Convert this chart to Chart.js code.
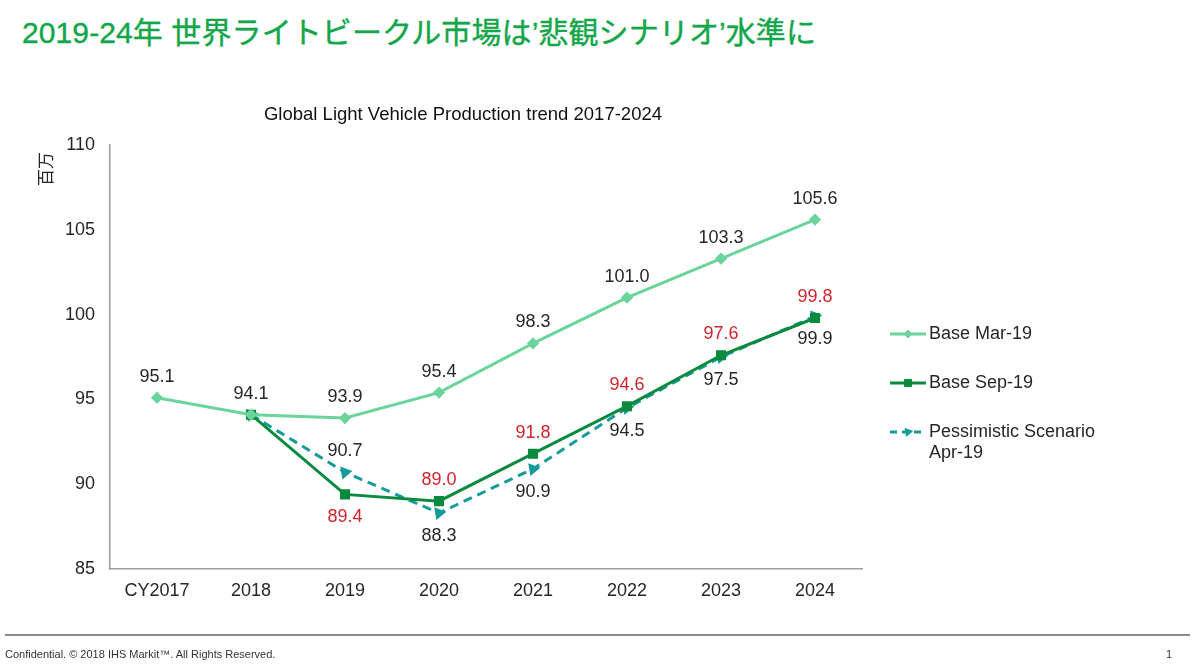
<!DOCTYPE html>
<html><head><meta charset="utf-8">
<script src="https://cdn.jsdelivr.net/npm/chart.js@4"></script>
<style>
html,body{margin:0;padding:0;background:#fff;width:1200px;height:666px;overflow:hidden;position:relative;font-family:"Liberation Sans",Arial,sans-serif}
#wrap{position:absolute;left:0;top:0;width:1200px;height:666px}
h1{position:absolute;left:22px;top:15px;margin:0;font-weight:normal;font-size:30px;letter-spacing:0.1px;font-family:"Liberation Sans","Noto Sans CJK JP",sans-serif;color:#14a64a;white-space:nowrap;line-height:36px;-webkit-text-stroke:0.4px #14a64a}
#rule{position:absolute;left:5px;top:634px;width:1185px;height:2px;background:#8c8c8c}
#foot{position:absolute;left:5px;top:648px;font-size:11px;color:#333}
#page{position:absolute;left:1166px;top:648px;font-size:11px;color:#333}
</style>
</head><body>
<h1>2019-24年 世界ライトビークル市場は’悲観シナリオ’水準に</h1>
<div id="wrap"><canvas id="c" width="1200" height="666"></canvas></div>
<div id="rule"></div>
<div id="foot">Confidential. © 2018 IHS Markit™. All Rights Reserved.</div>
<div id="page">1</div>
<script>
const categories = ['CY2017','2018','2019','2020','2021','2022','2023','2024'];
const baseMar19 = [95.1, 94.1, 93.9, 95.4, 98.3, 101.0, 103.3, 105.6];
const baseSep19 = [null, 94.1, 89.4, 89.0, 91.8, 94.6, 97.6, 99.8];
const pessimisticApr19 = [null, 94.1, 90.7, 88.3, 90.9, 94.5, 97.5, 99.9];
const seriesNames = ['Base Mar-19', 'Base Sep-19', ['Pessimistic Scenario', 'Apr-19']];
const chartTitle = 'Global Light Vehicle Production trend 2017-2024';
const yAxisTitle = '百万';
const yMin = 85, yMax = 110, yStep = 5;

// label placement (style): 'a' above, 'b' below, '' none
const labelPlacement = [
  ['a','a','a','a','a','a','a','a'],
  ['','','b','a','a','a','a','a'],
  ['','','a','b','b','b','b','b']
];
const labelColors = ['#262626', '#d0232b', '#262626'];

const FONT = '"Liberation Sans", Arial, sans-serif';

const labelPlugin = {
  id: 'pointLabels',
  afterDatasetsDraw(chart) {
    const ctx = chart.ctx;
    ctx.save();
    ctx.font = '18px ' + FONT;
    ctx.textAlign = 'center';
    ctx.textBaseline = 'middle';
    chart.data.datasets.forEach((ds, di) => {
      const meta = chart.getDatasetMeta(di);
      meta.data.forEach((pt, i) => {
        const v = ds.data[i];
        const p = labelPlacement[di][i];
        if (v == null || !p) return;
        ctx.fillStyle = labelColors[di];
        const dy = p === 'a' ? -21 : 23;
        ctx.fillText(v.toFixed(1), pt.x, pt.y + dy);
      });
    });
    ctx.restore();
  }
};

const textPlugin = {
  id: 'titles',
  afterDraw(chart) {
    const ctx = chart.ctx;
    const a = chart.chartArea;
    ctx.save();
    ctx.fillStyle = '#111';
    ctx.font = '18.5px ' + FONT;
    ctx.textAlign = 'center';
    ctx.textBaseline = 'middle';
    ctx.fillText(chartTitle, 463, 115);
    ctx.translate(46, a.top + 24);
    ctx.rotate(-Math.PI / 2);
    ctx.fillStyle = '#262626';
    ctx.font = '17px "Noto Sans CJK JP", sans-serif';
    ctx.fillText(yAxisTitle, 0, 0);
    ctx.restore();
  }
};

const legendPlugin = {
  id: 'sideLegend',
  afterDraw(chart) {
    const ctx = chart.ctx;
    const ys = [334, 383, 432];
    ctx.save();
    chart.data.datasets.forEach((ds, di) => {
      const y = ys[di];
      ctx.strokeStyle = ds.borderColor;
      ctx.lineWidth = ds.borderWidth;
      ctx.setLineDash(ds.legendDash || []);
      ctx.beginPath(); ctx.moveTo(890, y); ctx.lineTo(926, y); ctx.stroke();
      ctx.setLineDash([]);
      ctx.fillStyle = ds.pointBackgroundColor;
      ctx.strokeStyle = ds.pointBorderColor;
      ctx.lineWidth = 1;
      Chart.helpers.drawPoint(ctx, {pointStyle: ds.pointStyle, radius: ds.pointRadius, rotation: ds.pointRotation || 0, borderWidth: 1}, 908, y);
      ctx.fillStyle = '#262626';
      ctx.font = '18px ' + FONT;
      ctx.textAlign = 'left';
      ctx.textBaseline = 'middle';
      const lines = Array.isArray(seriesNames[di]) ? seriesNames[di] : [seriesNames[di]];
      lines.forEach((t, k) => ctx.fillText(t, 929, y + k * 21));
    });
    ctx.restore();
  }
};

const cMar = '#6ad49b', cSep = '#0a8a3e', cPes = '#169b9b';

new Chart(document.getElementById('c'), {
  type: 'line',
  data: {
    labels: categories,
    datasets: [
      {label: 'Base Mar-19', data: baseMar19, borderColor: cMar, backgroundColor: cMar, pointBackgroundColor: cMar, pointBorderColor: cMar, borderWidth: 3, pointStyle: 'rectRot', pointRadius: 4, tension: 0},
      {label: 'Base Sep-19', data: baseSep19, borderColor: cSep, backgroundColor: cSep, pointBackgroundColor: cSep, pointBorderColor: cSep, borderWidth: 3, pointStyle: 'rect', pointRadius: 5, tension: 0},
      {label: 'Pessimistic Scenario Apr-19', data: pessimisticApr19, borderColor: cPes, backgroundColor: cPes, pointBackgroundColor: cPes, pointBorderColor: cPes, borderWidth: 3, borderDash: [9, 6], legendDash: [7, 5], pointStyle: 'triangle', pointRadius: 4.5, pointRotation: 200, tension: 0}
    ]
  },
  options: {
    responsive: false,
    animation: false,
    events: [],
    layout: {padding: {top: 145, left: 0, right: 338, bottom: 57}},
    plugins: {
      legend: {display: false},
      tooltip: {enabled: false},
      title: {display: false}
    },
    scales: {
      x: {
        offset: true,
        grid: {display: false, drawTicks: false},
        border: {display: true, color: '#9e9e9e', width: 1.5},
        ticks: {color: '#262626', font: {family: FONT, size: 18}, padding: 11},
        afterFit(s) { s.height = 40; }
      },
      y: {
        min: yMin, max: yMax,
        grid: {display: false, drawTicks: false},
        border: {display: true, color: '#9e9e9e', width: 1.5},
        ticks: {stepSize: yStep, color: '#262626', font: {family: FONT, size: 18}, padding: 15},
        afterFit(s) { s.width = 110; }
      }
    }
  },
  plugins: [labelPlugin, textPlugin, legendPlugin]
});
</script>
</body></html>
